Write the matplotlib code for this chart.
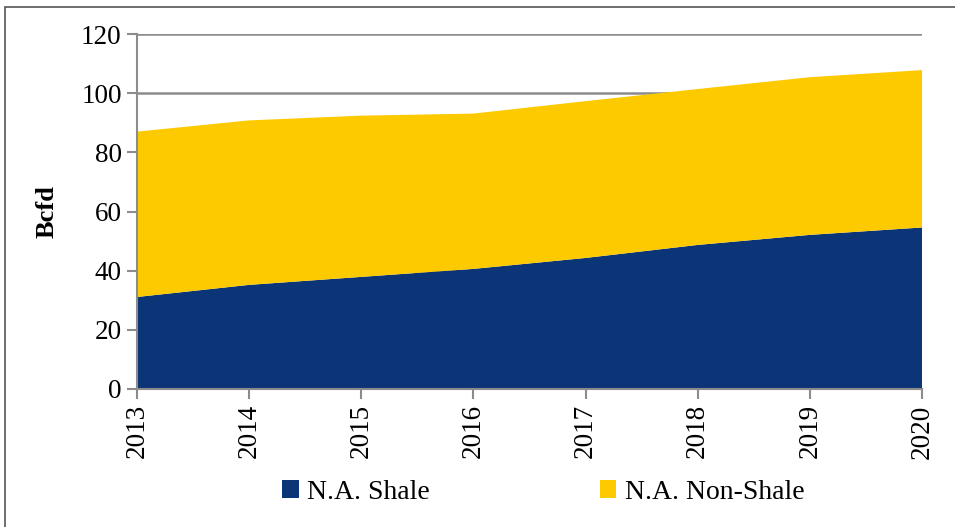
import matplotlib
matplotlib.use("Agg")
import matplotlib.pyplot as plt
from matplotlib.patches import Rectangle

years = [2013, 2014, 2015, 2016, 2017, 2018, 2019, 2020]
shale = [31.1, 35.2, 37.9, 40.6, 44.3, 48.7, 52.1, 54.6]
total = [87.0, 90.8, 92.4, 93.1, 97.3, 101.4, 105.4, 107.8]
non_shale = [t - s for t, s in zip(total, shale)]

navy = "#0b3577"
gold = "#fdca00"
grey = "#8c8c8c"

plt.rcParams["font.family"] = ["Liberation Serif", "DejaVu Serif"]

fig = plt.figure(figsize=(9.55, 5.27), dpi=100)
ax = fig.add_axes([137 / 955, 1 - 389 / 527, 785 / 955, 355 / 527])

ax.stackplot(years, shale, non_shale, colors=[navy, gold],
             labels=["N.A. Shale", "N.A. Non-Shale"], zorder=2)

ax.set_xlim(2013, 2020)
ax.set_ylim(0, 120)
ax.set_yticks(range(0, 121, 20))
ax.set_xticks(years)
ax.set_xticklabels([str(y) for y in years], rotation=90)
ax.yaxis.grid(True, color=grey, linewidth=1.8, zorder=1)
ax.set_axisbelow(True)

for side in ["top", "right"]:
    ax.spines[side].set_visible(False)
for side in ["left", "bottom"]:
    ax.spines[side].set_color(grey)
    ax.spines[side].set_linewidth(1.5)
    ax.spines[side].set_zorder(3)

ax.tick_params(axis="both", direction="out", length=7, width=1.5,
               color=grey, labelsize=19.5, pad=4)
ax.set_ylabel("Bcfd", fontsize=19, fontweight="bold", labelpad=16)

fig.legend(loc="lower center", bbox_to_anchor=(0.569, -0.005), ncol=2,
           frameon=False, fontsize=20, handlelength=0.6, handleheight=0.6,
           handletextpad=0.3, columnspacing=6.1)

# outer border of the chart area
fig.patches.append(Rectangle((5 / 955, -0.1), 1.2, 1 - 7 / 527 + 0.1,
                             transform=fig.transFigure, fill=False,
                             edgecolor="#555555", linewidth=1.2))

fig.savefig("out.png", dpi=100)
